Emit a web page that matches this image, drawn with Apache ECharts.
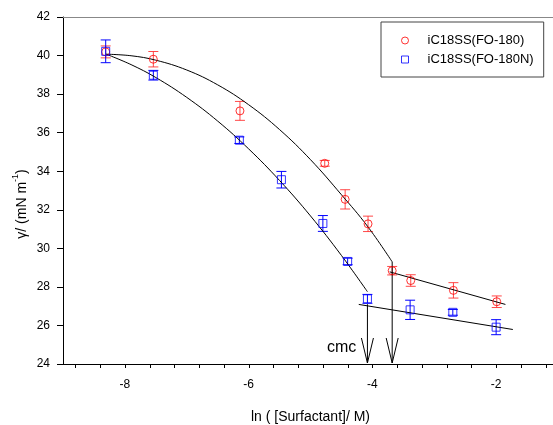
<!DOCTYPE html>
<html>
<head>
<meta charset="utf-8">
<script src="https://cdn.jsdelivr.net/npm/echarts@6/dist/echarts.min.js"></script>
<style>html,body{margin:0;padding:0;background:#fff;}#c{width:553px;height:425px;}</style>
</head>
<body>
<div id="c"></div>
<script>
// ---- data ----
const xTickLabels = [-8, -6, -4, -2];
const xMinorTicks = [-8.8, -8.4, -8.0, -7.6, -7.2, -6.8, -6.4, -6.0, -5.6, -5.2, -4.8, -4.4, -4.0, -3.6, -3.2, -2.8, -2.4, -2.0, -1.6, -1.2];
const yTickLabels = [24, 26, 28, 30, 32, 34, 36, 38, 40, 42];

const redName = 'iC18SS(FO-180)';
const redX   = [-8.31, -7.54, -6.14, -4.77, -4.44, -4.07, -3.68, -3.38, -2.69, -1.99];
const redY   = [40.19, 39.81, 37.13, 34.41, 32.54, 31.27, 28.84, 28.33, 27.82, 27.23];
const redErr = [0.31, 0.40, 0.49, 0.15, 0.50, 0.40, 0.22, 0.30, 0.40, 0.30];

const blueName = 'iC18SS(FO-180N)';
const blueX   = [-8.31, -7.54, -6.15, -5.47, -4.80, -4.40, -4.08, -3.39, -2.70, -2.00];
const blueY   = [40.22, 38.98, 35.61, 33.56, 31.29, 29.32, 27.38, 26.81, 26.68, 25.91];
const blueErr = [0.59, 0.25, 0.17, 0.43, 0.41, 0.17, 0.23, 0.50, 0.15, 0.39];

// fitted curves
const fitRedPreX  = [-8.30, -7.90, -7.50, -7.00, -6.50, -6.00, -5.50, -5.00, -4.50, -4.08, -3.68];
const fitRedPreY  = [40.07, 39.99, 39.76, 39.25, 38.48, 37.45, 36.16, 34.60, 32.78, 31.15, 29.30];
const fitBluePreX = [-8.30, -7.90, -7.50, -7.00, -6.50, -6.00, -5.50, -5.00, -4.50, -4.08];
const fitBluePreY = [40.07, 39.53, 38.86, 37.83, 36.60, 35.16, 33.52, 31.68, 29.63, 27.75];
const fitRedPostX  = [-3.72, -1.85];
const fitRedPostY  = [28.78, 27.09];
const fitBluePostX = [-4.22, -1.73];
const fitBluePostY = [27.09, 25.79];

// cmc arrows
const cmcX   = [-4.08, -3.68];
const cmcTop = [27.10, 29.30];
const cmcLabel = 'cmc';

// ---- chart ----
const FONT = '"Liberation Sans", Arial, sans-serif';
const RED = '#ff0000', BLUE = '#0000ff';
const zip = (a, b) => a.map((v, i) => [v, b[i]]);
const errData = (xs, ys, es) => xs.map((x, i) => [x, ys[i] - es[i], ys[i] + es[i]]);

function errRender(color) {
  return function (params, api) {
    const x = api.value(0);
    const pLo = api.coord([x, api.value(1)]);
    const pHi = api.coord([x, api.value(2)]);
    const w = 5;
    const st = { stroke: color, lineWidth: 1 };
    return {
      type: 'group',
      children: [
        { type: 'line', shape: { x1: pLo[0], y1: pLo[1], x2: pHi[0], y2: pHi[1] }, style: st },
        { type: 'line', shape: { x1: pLo[0] - w, y1: pLo[1], x2: pLo[0] + w, y2: pLo[1] }, style: st },
        { type: 'line', shape: { x1: pHi[0] - w, y1: pHi[1], x2: pHi[0] + w, y2: pHi[1] }, style: st }
      ]
    };
  };
}

function arrowRender(params, api) {
  const x = api.value(0);
  const top = api.coord([x, api.value(1)]);
  const bot = api.coord([x, yTickLabels[0]]);
  const tipY = bot[1] - 1;
  const st = { stroke: '#000', lineWidth: 1, fill: null };
  return {
    type: 'group',
    children: [
      { type: 'line', shape: { x1: top[0], y1: top[1], x2: top[0], y2: tipY }, style: st },
      { type: 'polyline', shape: { points: [[top[0] - 6, tipY - 25], [top[0], tipY], [top[0] + 6, tipY - 25]] }, style: st }
    ]
  };
}

function tickRender(params, api) {
  const p = api.coord([api.value(0), yTickLabels[0]]);
  const x = Math.round(p[0]) + 0.5;
  return { type: 'line', shape: { x1: x, y1: p[1], x2: x, y2: p[1] + 4 }, style: { stroke: '#000', lineWidth: 1 } };
}

const xCommon = { type: 'value', min: -9, max: -1, interval: 1, splitLine: { show: false } };

const chart = echarts.init(document.getElementById('c'), null, { renderer: 'canvas' });
chart.setOption({
  animation: false,
  backgroundColor: '#fff',
  color: [RED, BLUE],
  textStyle: { fontFamily: FONT },
  grid: { left: 63, top: 17, width: 495, height: 347, outerBoundsMode: 'none', containLabel: false },
  legend: {
    orient: 'vertical', left: 381, top: 22,
    padding: [12, 10, 11, 20], itemWidth: 7, itemHeight: 7, itemGap: 6,
    borderColor: '#444', borderWidth: 1,
    textStyle: { fontSize: 13, color: '#000', fontFamily: FONT, padding: [0, 0, 0, 14] },
    data: [
      { name: redName, icon: 'circle', itemStyle: { color: 'rgba(255,0,0,0)', borderColor: RED, borderWidth: 1 } },
      { name: blueName, icon: 'rect', itemStyle: { color: 'rgba(0,0,255,0)', borderColor: BLUE, borderWidth: 1 } }
    ]
  },
  xAxis: [
    Object.assign({}, xCommon, {
      name: 'ln ( [Surfactant]/ M)', nameLocation: 'middle', nameGap: 46,
      nameTextStyle: { fontSize: 14, color: '#000', fontFamily: FONT },
      axisLine: { lineStyle: { color: '#000', width: 1 } },
      axisTick: { show: false },
      axisLabel: { fontSize: 12, color: '#000', margin: 15, fontFamily: FONT,
        formatter: v => (xTickLabels.indexOf(v) >= 0 ? String(v) : '') }
    }),
    Object.assign({}, xCommon, {
      position: 'top',
      axisLine: { show: true, lineStyle: { color: '#888', width: 1 } },
      axisTick: { show: false }, axisLabel: { show: false }
    })
  ],
  yAxis: {
    type: 'value', min: yTickLabels[0], max: yTickLabels[yTickLabels.length - 1], interval: 2,
    axisLine: { show: true, lineStyle: { color: '#000', width: 1 } },
    axisTick: { show: true, inside: false, length: 6, lineStyle: { color: '#000' } },
    axisLabel: { fontSize: 12, color: '#000', margin: 13, fontFamily: FONT },
    splitLine: { show: false }
  },
  graphic: [
    {
      type: 'text', x: 20, y: 204, rotation: Math.PI / 2,
      style: {
        text: '{a|γ/ (mN m}{b|-1}{a|)}',
        align: 'center', verticalAlign: 'middle',
        rich: {
          a: { fontSize: 14, fontFamily: FONT, fill: '#000', color: '#000', lineHeight: 18, verticalAlign: 'bottom' },
          b: { fontSize: 9, fontFamily: FONT, fill: '#000', color: '#000', lineHeight: 18, verticalAlign: 'top' }
        }
      }
    },
    {
      type: 'text', x: 327, y: 348,
      style: { text: cmcLabel, fontSize: 16, fontFamily: FONT, fill: '#000', verticalAlign: 'middle' }
    }
  ],
  series: [
    { type: 'line', data: zip(fitRedPreX, fitRedPreY), smooth: 0.4, symbol: 'none', lineStyle: { color: '#000', width: 1 }, silent: true, z: 3 },
    { type: 'line', data: zip(fitBluePreX, fitBluePreY), smooth: 0.4, symbol: 'none', lineStyle: { color: '#000', width: 1 }, silent: true, z: 3 },
    { type: 'line', data: zip(fitRedPostX, fitRedPostY), symbol: 'none', lineStyle: { color: '#000', width: 1 }, silent: true, z: 3 },
    { type: 'line', data: zip(fitBluePostX, fitBluePostY), symbol: 'none', lineStyle: { color: '#000', width: 1 }, silent: true, z: 3 },
    { type: 'custom', renderItem: tickRender, data: xMinorTicks.map(v => [v, yTickLabels[0]]), encode: { x: 0, y: 1 }, clip: false, silent: true, z: 1 },
    { type: 'custom', renderItem: errRender('rgba(255,40,40,0.85)'), data: errData(redX, redY, redErr), encode: { x: 0, y: [1, 2] }, z: 2, silent: true },
    { type: 'custom', renderItem: errRender(BLUE), data: errData(blueX, blueY, blueErr), encode: { x: 0, y: [1, 2] }, z: 2, silent: true },
    { type: 'custom', renderItem: arrowRender, data: zip(cmcX, cmcTop), encode: { x: 0, y: 1 }, z: 4, silent: true },
    { name: redName, type: 'scatter', data: zip(redX, redY), symbol: 'circle', symbolSize: 8,
      itemStyle: { color: 'rgba(255,0,0,0)', borderColor: RED, borderWidth: 1 }, z: 5 },
    { name: blueName, type: 'scatter', data: zip(blueX, blueY), symbol: 'rect', symbolSize: 8,
      itemStyle: { color: 'rgba(0,0,255,0)', borderColor: BLUE, borderWidth: 1 }, z: 5 }
  ]
});
</script>
</body>
</html>
